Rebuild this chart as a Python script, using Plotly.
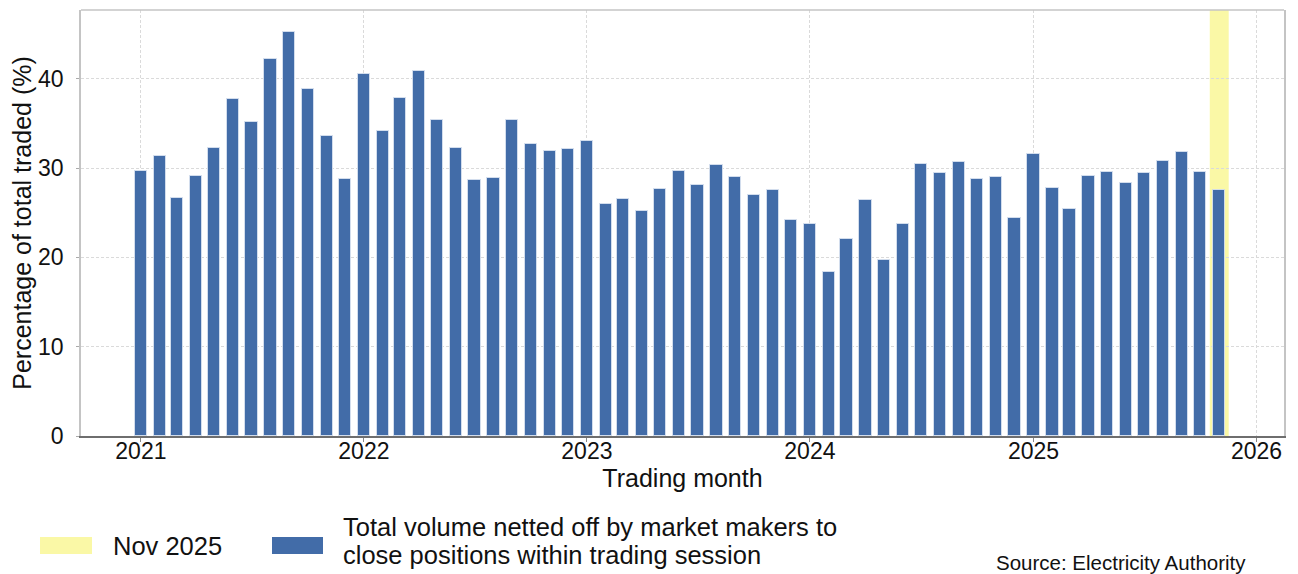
import plotly.graph_objects as go
import pandas as pd

# ---- data ----
months = pd.date_range("2021-01-01", "2025-11-01", freq="MS").strftime("%Y-%m-%d").tolist()
netted_pct = [
    # 2021
    29.7, 31.4, 26.7, 29.1, 32.3, 37.7, 35.2, 42.2, 45.2, 38.8, 33.6, 28.8,
    # 2022
    40.5, 34.2, 37.8, 40.9, 35.4, 32.3, 28.7, 28.9, 35.4, 32.7, 31.9, 32.1,
    # 2023
    33.0, 26.0, 26.5, 25.2, 27.7, 29.7, 28.1, 30.4, 29.0, 27.0, 27.5, 24.2,
    # 2024
    23.7, 18.4, 22.1, 26.4, 19.7, 23.7, 30.5, 29.5, 30.7, 28.8, 29.0, 24.4,
    # 2025
    31.6, 27.8, 25.4, 29.1, 29.6, 28.3, 29.4, 30.8, 31.8, 29.6, 27.6,
]
highlight_month = "2025-11-01"
highlight_label = "Nov 2025"
series_label_lines = ["Total volume netted off by market makers to",
                      "close positions within trading session"]
year_ticks = ["2021-01-01", "2022-01-01", "2023-01-01", "2024-01-01", "2025-01-01", "2026-01-01"]
year_labels = ["2021", "2022", "2023", "2024", "2025", "2026"]
y_ticks = [0, 10, 20, 30, 40]

BLUE = "#426CA8"
YELLOW = "#FAF8A6"
FONT = "Liberation Sans, Arial, sans-serif"
DAY_MS = 86400000

fig = go.Figure()

fig.add_trace(go.Bar(
    x=months, y=netted_pct,
    width=20 * DAY_MS,
    marker=dict(color=BLUE, line=dict(color="rgba(215,225,240,0.9)", width=1)),
    showlegend=False,
))

# highlight month band (one month wide, centred on the month)
hm = pd.Timestamp(highlight_month)
fig.add_vrect(
    x0=(hm - pd.Timedelta(days=15.5)).strftime("%Y-%m-%d %H:%M"),
    x1=(hm + pd.Timedelta(days=15.5)).strftime("%Y-%m-%d %H:%M"),
    fillcolor=YELLOW, line_width=0, layer="below", opacity=1,
)

# top border (light)
fig.add_shape(type="line", xref="paper", yref="paper", x0=0, x1=1, y0=1, y1=1,
              line=dict(color="#C4C4C4", width=1.5))

# ---- manual legend (positions given in page pixels, converted to paper) ----
W, H = 1203.0, 426.0
L, B = 81.0, 436.0
def px(x):
    return (x - L) / W
def py(y):
    return (B - y) / H

fig.add_shape(type="rect", xref="paper", yref="paper",
              x0=px(40), x1=px(92), y0=py(554), y1=py(537),
              fillcolor=YELLOW, line_width=0)
fig.add_shape(type="rect", xref="paper", yref="paper",
              x0=px(272), x1=px(323), y0=py(554), y1=py(537),
              fillcolor=BLUE, line_width=0)

fig.add_annotation(text=highlight_label, xref="paper", yref="paper",
                   x=px(111), y=py(546), xanchor="left", yanchor="middle",
                   showarrow=False, font=dict(size=25.5, color="#111", family=FONT))
fig.add_annotation(text=series_label_lines[0], xref="paper", yref="paper",
                   x=px(341), y=py(527), xanchor="left", yanchor="middle",
                   showarrow=False, font=dict(size=25.5, color="#111", family=FONT))
fig.add_annotation(text=series_label_lines[1], xref="paper", yref="paper",
                   x=px(341), y=py(555), xanchor="left", yanchor="middle",
                   showarrow=False, font=dict(size=25.5, color="#111", family=FONT))
fig.add_annotation(text="Source: Electricity Authority", xref="paper", yref="paper",
                   x=px(1248), y=py(562), xanchor="right", yanchor="middle",
                   showarrow=False, font=dict(size=20.5, color="#111", family=FONT))

# page body has an 8px margin; figure is sized so plot area lands where the reference has it
fig.update_layout(
    width=1290, height=566,
    margin=dict(l=73, r=14, t=2, b=138, autoexpand=False),
    plot_bgcolor="white", paper_bgcolor="white",
    font=dict(family=FONT, color="#111"),
    bargap=0, showlegend=False,
)

fig.update_xaxes(
    type="date",
    range=["2020-09-25", "2026-02-15"],
    tickvals=year_ticks, ticktext=year_labels,
    tickfont=dict(size=23, color="#111"),
    ticks="outside", ticklen=4, tickcolor="#888",
    ticklabelstandoff=-11,
    showgrid=True, gridcolor="#DADADA", griddash="3px,2px", gridwidth=1,
    showline=True, linecolor="#6E6E6E", linewidth=2,
    zeroline=False,
    title=dict(text="Trading month", font=dict(size=25, color="#111"), standoff=4),
    automargin=False,
)
fig.update_yaxes(
    range=[0, 47.7],
    tickvals=y_ticks,
    tickfont=dict(size=23, color="#111"),
    ticks="outside", ticklen=3, tickcolor="#AAA",
    ticklabelstandoff=8,
    showgrid=True, gridcolor="#DADADA", griddash="3px,2px", gridwidth=1,
    showline=True, linecolor="#C4C4C4", linewidth=1.5, mirror=True,
    zeroline=False,
    title=dict(text="Percentage of total traded (%)", font=dict(size=25, color="#111"), standoff=4),
    automargin=False,
)

fig.write_html("out.html")
